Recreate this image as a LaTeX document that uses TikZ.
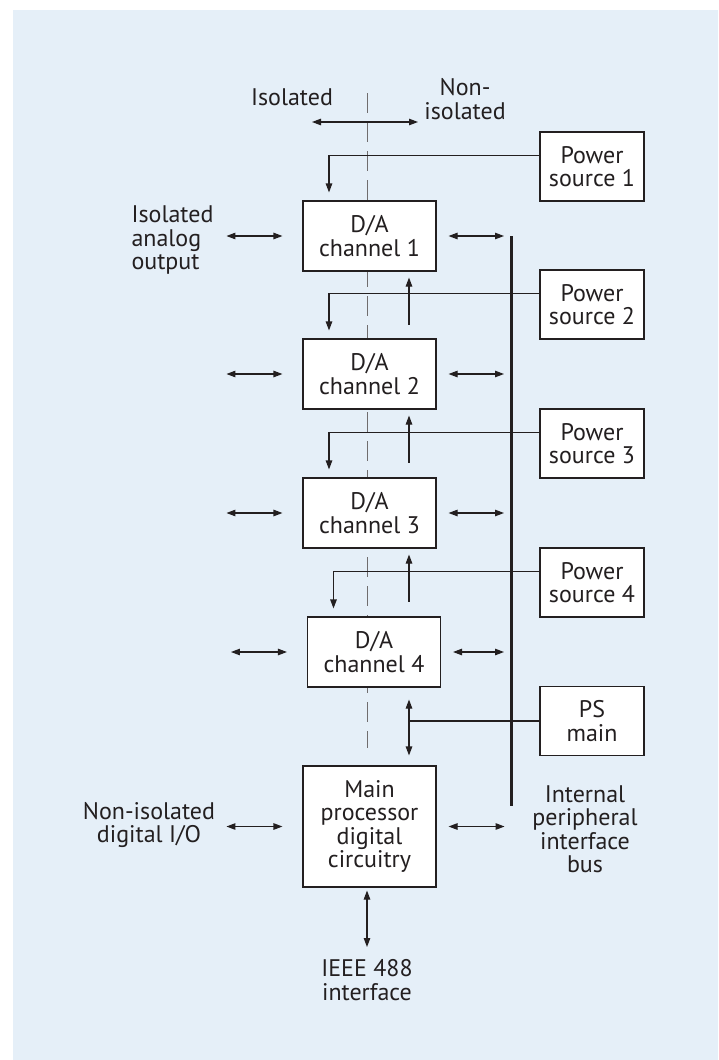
\documentclass[tikz,border=0pt]{standalone}
\usepackage{fontspec}
\setmainfont{PT Sans}
\usepackage{tikz}
\usetikzlibrary{arrows.meta,calc}
\definecolor{bgblue}{RGB}{229,239,248}
\definecolor{ink}{RGB}{35,31,32}

\begin{document}
\begin{tikzpicture}[x=1pt, y=-1pt, line width=1.1pt, color=ink,
    every node/.style={font=\fontsize{24}{23.5}\selectfont, align=center, inner sep=0pt},
    chbox/.style={draw, fill=white, minimum width=133pt, minimum height=70pt},
    psbox/.style={draw, fill=white, minimum width=104pt, minimum height=69pt},
    sep/.style={ink!65, line width=0.9pt, dash pattern=on 20pt off 9pt},
    arr/.style={-{Triangle[length=9pt,width=6.5pt]}},
    dbl/.style={{Triangle[length=9pt,width=6.5pt]}-{Triangle[length=9pt,width=6.5pt]}}]
    \useasboundingbox (0,0) rectangle (718,1060);
    \fill[bgblue] (13,10) rectangle (718,1060);

    \coordinate (dtop) at (367,93);
    \coordinate (dbot) at (367,748);
    \draw[sep] (dtop) -- (dbot);

    \node (iso) at (292,97) {Isolated};
    \node (noniso) at (465,99) {Non-\\isolated};
    \coordinate (isoL) at (312,122);
    \coordinate (isoR) at (418,122);
    \draw[dbl] (isoL) -- (isoR);

    \node[chbox] (ch1) at (369.5,236) {D/A\\channel 1};
    \node[chbox] (ch2) at (369.5,374) {D/A\\channel 2};
    \node[chbox] (ch3) at (369.5,513) {D/A\\channel 3};
    \node[chbox] (ch4) at (374,652) {D/A\\channel 4};
    \node[chbox, minimum height=121pt] (main) at (369.5,826.5) {Main\\processor\\digital\\circuitry};

    \node[psbox] (ps1) at (592,166.5) {Power\\source 1};
    \node[psbox] (ps2) at (592,304.5) {Power\\source 2};
    \node[psbox] (ps3) at (592,443.5) {Power\\source 3};
    \node[psbox] (ps4) at (592,582.5) {Power\\source 4};
    \node[psbox] (psm) at (592,721) {PS\\main};

    \node[align=left, anchor=west] (aout) at (131,240) {Isolated\\analog\\output};
    \node (dio) at (149,825) {Non-isolated\\digital I/O};
    \node (busl) at (585,829) {Internal\\peripheral\\interface\\bus};
    \node (ieee) at (367,980) {IEEE 488\\interface};

    \coordinate (bustop) at (511,236);
    \coordinate (busbot) at (511,806);
    \draw[line width=3pt] (bustop) -- (busbot);

    \foreach \c in {1,2,3,4} {
        \draw[dbl, shorten >=20pt] ($(ch\c.west)+(-76,0)$) -- (ch\c.west);
        \draw[dbl, shorten <=12pt, shorten >=7pt] (ch\c.east) -- (ch\c.east -| bustop);
        \draw[arr, shorten >=8pt] ($(ps\c.north west)+(0,24)$) -| ($(ch\c.north)+(-40.5,0)$);
    }
    \foreach \c in {1,2,3}
        \draw[arr, shorten >=6pt] ($(ch\c.south)+(39.5,53)$) -- ($(ch\c.south)+(39.5,0)$);

    \coordinate (pj) at (409,721);
    \draw (psm.west) -- (pj);
    \draw[dbl, shorten <=12pt, shorten >=10pt] (ch4.south -| pj) -- (main.north -| pj);

    \draw[dbl, shorten >=20pt] ($(main.west)+(-76,0)$) -- (main.west);
    \draw[dbl, shorten <=12pt] (main.east) -- ++(68,0);
    \draw[dbl, shorten <=3pt, shorten >=12pt] (main.south -| ieee.north) -- (ieee.north);
\end{tikzpicture}
\end{document}
